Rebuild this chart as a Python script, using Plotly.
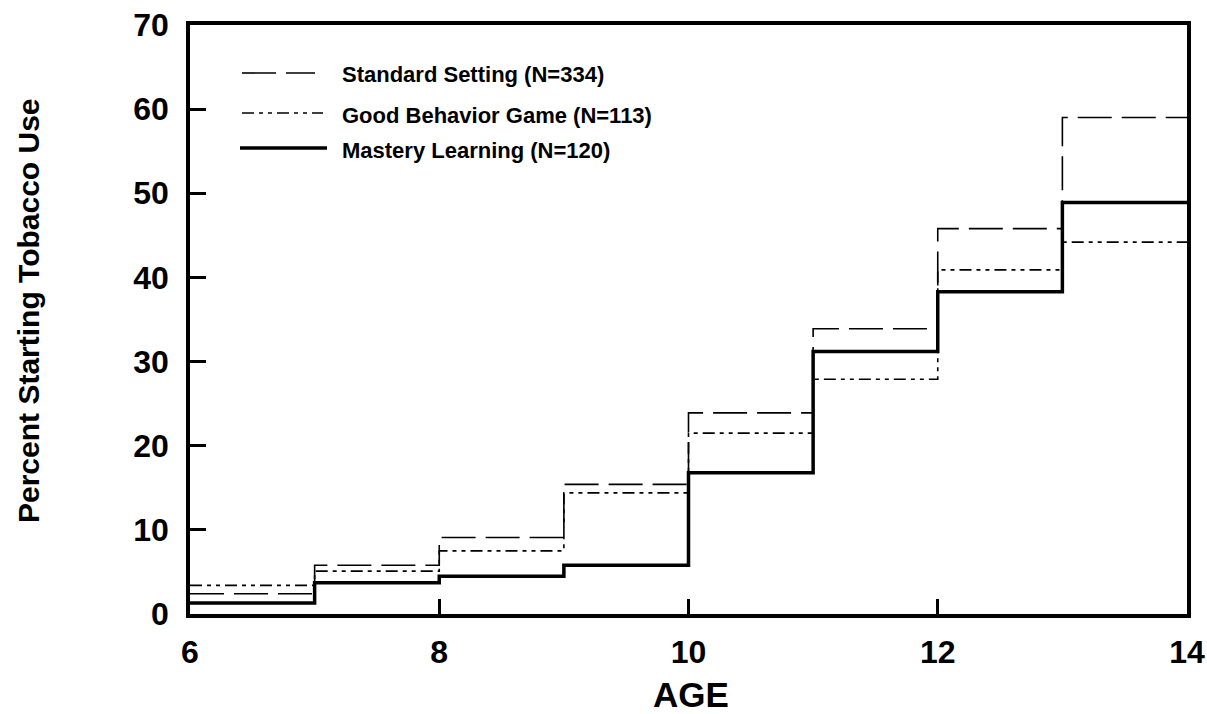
import plotly.graph_objects as go

# ---- data ----
age_edges = [6, 7, 8, 9, 10, 11, 12, 13, 14]
standard_setting = [2.4, 5.8, 9.1, 15.4, 23.9, 33.9, 45.8, 59.0]
good_behavior = [3.4, 5.1, 7.5, 14.4, 21.5, 27.9, 40.9, 44.2]
mastery_learning = [1.3, 3.7, 4.5, 5.8, 16.8, 31.2, 38.3, 48.9]
series_names = ["Standard Setting (N=334)", "Good Behavior Game (N=113)", "Mastery Learning (N=120)"]
x_ticks = [6, 8, 10, 12, 14]
y_ticks = [0, 10, 20, 30, 40, 50, 60, 70]
x_title = "AGE"
y_title = "Percent Starting Tobacco Use"

W, H = 1207, 714
ML, MT = 190, 25
MR = W - 1187
MB = H - 614
PW, PH = W - ML - MR, H - MT - MB

FONT = "Liberation Sans, Arial, Helvetica, sans-serif"

styles = [
    dict(width=1.6, dash="34px,10px"),
    dict(width=1.6, dash="12px,5px,4px,5px,4px,5px"),
    dict(width=3.5, dash="solid"),
]
series = [standard_setting, good_behavior, mastery_learning]

fig = go.Figure()
for name, vals, st in zip(series_names, series, styles):
    fig.add_trace(go.Scatter(
        x=age_edges, y=vals + [vals[-1]], mode="lines", name=name,
        line=dict(color="black", width=st["width"], dash=st["dash"], shape="hv"),
        showlegend=False, hoverinfo="skip",
    ))

def px_x(p):
    # page pixel -> paper fraction
    return (p - ML) / PW

def px_y(p):
    return (H - MB - p) / PH

# manual legend
legend_rows = [
    (73, 74, 242, 315, styles[0]),
    (113, 115, 242, 323, styles[1]),
    (148, 150, 240, 327, styles[2]),
]
for (yl, yt, x0, x1, st), name in zip(legend_rows, series_names):
    fig.add_shape(type="line", xref="paper", yref="paper",
                  x0=px_x(x0), x1=px_x(x1), y0=px_y(yl), y1=px_y(yl),
                  line=dict(color="black", width=st["width"], dash=st["dash"]))
    fig.add_annotation(xref="paper", yref="paper", x=px_x(340), y=px_y(yt),
                       xanchor="left", yanchor="middle", showarrow=False,
                       text=name, font=dict(family=FONT, size=22, color="black", weight="bold"))

# axis titles
fig.add_annotation(xref="paper", yref="paper", x=px_x(691), y=px_y(694),
                   xanchor="center", yanchor="middle", showarrow=False, borderpad=0,
                   text=x_title, font=dict(family=FONT, size=35, color="black", weight="bold"))
fig.add_annotation(xref="paper", yref="paper", x=px_x(28), y=px_y(311),
                   xanchor="center", yanchor="middle", showarrow=False, textangle=-90,
                   text=y_title, font=dict(family=FONT, size=30, color="black", weight="bold"))

fig.update_layout(
    width=W, height=H,
    margin=dict(l=ML, r=MR, t=MT, b=MB, autoexpand=False),
    paper_bgcolor="white", plot_bgcolor="white",
    font=dict(family=FONT, color="black"),
    showlegend=False,
)
fig.update_xaxes(
    range=[6, 14], tickvals=x_ticks, ticktext=[str(v) for v in x_ticks],
    showgrid=False, zeroline=False, automargin=False,
    showline=True, linecolor="black", linewidth=3.5, mirror=True,
    ticks="inside", ticklen=15, tickwidth=3, tickcolor="black",
    ticklabelstandoff=7, ticklabeloverflow="allow",
    tickfont=dict(family=FONT, size=32, color="black", weight="bold"),
)
fig.update_yaxes(
    range=[0, 70], tickvals=y_ticks, ticktext=[str(v) for v in y_ticks],
    showgrid=False, zeroline=False, automargin=False,
    showline=True, linecolor="black", linewidth=3.5, mirror=True,
    ticks="inside", ticklen=16, tickwidth=3, tickcolor="black",
    ticklabelstandoff=11, ticklabeloverflow="allow",
    tickfont=dict(family=FONT, size=32, color="black", weight="bold"),
)

fig.write_html(
    "out.html",
    config={"displayModeBar": False},
    post_script="document.body.style.margin='0px';document.body.style.overflow='hidden';",
)
